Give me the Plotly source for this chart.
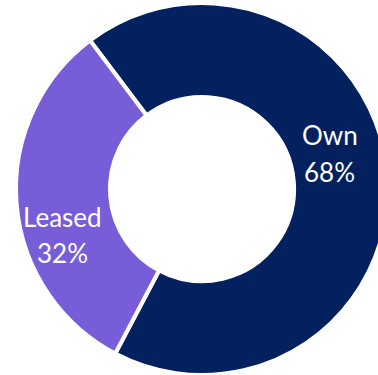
import plotly.graph_objects as go

# Property tenure split
categories = ["Own", "Leased"]
shares = [68, 32]
colors = ["#03215F", "#775DD8"]

# Label anchor points in paper coordinates (x, y for name line, y for value line)
label_x = [0.844, 0.126]
label_name_y = [0.646, 0.424]
label_value_y = [0.546, 0.328]

fig = go.Figure(
    go.Pie(
        labels=categories,
        values=shares,
        hole=0.495,
        sort=False,
        direction="clockwise",
        rotation=-37,
        marker=dict(colors=colors, line=dict(color="white", width=4)),
        textinfo="none",
        hoverinfo="label+percent",
        showlegend=False,
    )
)

total = sum(shares)
for name, val, x, yn, yv in zip(categories, shares, label_x, label_name_y, label_value_y):
    pct = round(100 * val / total)
    for txt, y in ((name, yn), (f"{pct}%", yv)):
        fig.add_annotation(x=x, y=y, xref="paper", yref="paper", text=txt,
                           xanchor="center", yanchor="middle", showarrow=False,
                           font=dict(family="Lato", size=26, color="white"))

fig.update_layout(
    width=404,
    height=375,
    margin=dict(l=16, r=16, t=3, b=0),
    paper_bgcolor="white",
    plot_bgcolor="white",
)

fig.write_html(
    "out.html",
    config={"displayModeBar": False},
    post_script="document.body.style.margin='0';document.body.style.overflow='hidden';",
)
